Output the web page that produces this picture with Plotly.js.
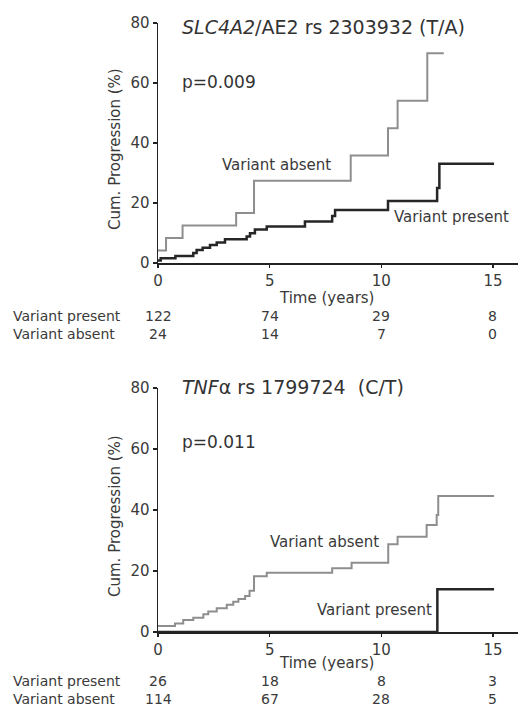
<!DOCTYPE html>
<html><head><meta charset="utf-8">
<script src="https://cdn.plot.ly/plotly-3.0.1.min.js"></script>
<style>html,body{margin:0;padding:0;background:#fff}#chart{width:518px;height:711px}</style>
</head><body><div id="chart"></div>
<script>
// Panel A: SLC4A2/AE2
const aAbsentT = [0, 0.36, 1.1, 3.5, 4.3, 8.63, 10.3, 10.73, 12.06, 12.8];
const aAbsentY = [4.2, 8.3, 12.5, 16.7, 27.4, 35.8, 44.9, 54.1, 69.9, 69.9];
const aPresentT = [0, 0.12, 0.78, 1.58, 1.73, 2.0, 2.33, 2.63, 3.0, 3.97, 4.12, 4.34, 4.87, 6.58, 7.8, 7.93, 10.3, 12.5, 12.6, 15.05];
const aPresentY = [0.8, 1.6, 2.3, 3.3, 4.3, 5.1, 6.0, 6.8, 7.9, 8.8, 9.9, 11.2, 12.2, 13.8, 15.7, 17.7, 20.7, 25.0, 33.1, 33.1];
// Panel B: TNFalpha
const bAbsentT = [0, 0.76, 1.13, 1.58, 2.03, 2.25, 2.63, 3.08, 3.37, 3.6, 3.9, 4.1, 4.3, 4.87, 7.8, 8.67, 10.31, 10.73, 12.03, 12.48, 12.55, 15.05];
const bAbsentY = [2.0, 2.8, 3.9, 4.7, 5.8, 6.7, 7.8, 8.9, 9.9, 10.8, 11.8, 13.5, 18.3, 19.4, 20.9, 22.7, 28.8, 31.2, 35.1, 38.4, 44.6, 44.6];
const bPresentT = [0, 12.51, 15.05];
const bPresentY = [0, 14, 14];

const timeTicks = [0, 5, 10, 15];
const aRiskPresent = ["122", "74", "29", "8"];
const aRiskAbsent = ["24", "14", "7", "0"];
const bRiskPresent = ["26", "18", "8", "3"];
const bRiskAbsent = ["114", "67", "28", "5"];

const FONT = "DejaVu Sans, Verdana, sans-serif";
const TXT = "#3a3a3a";
const GREY = "#8e8e8e";
const DARK = "#262626";

function tr(x, y, color, w, xa, ya) {
  return {x: x, y: y, type: "scatter", mode: "lines", line: {shape: "hv", color: color, width: w},
    xaxis: xa, yaxis: ya, hoverinfo: "skip", cliponaxis: false};
}
const data = [
  tr(aAbsentT, aAbsentY, GREY, 2, "x", "y"),
  tr(aPresentT, aPresentY, DARK, 2.5, "x", "y"),
  tr(bAbsentT, bAbsentY, GREY, 2, "x2", "y2"),
  tr(bPresentT, bPresentY, DARK, 2.5, "x2", "y2")
];

const H = 711, L = 158, W = 360;
const py = p => 1 - p / H;
const px = p => (p - L) / W;

function xax(anchor) {
  return {range: [0, W / 22.33], anchor: anchor, showgrid: false, zeroline: false,
    showline: true, linecolor: "#222", linewidth: 1.5, ticks: "outside", ticklen: 3, tickwidth: 1.2,
    tickcolor: "#222", tickvals: timeTicks, tickfont: {family: FONT, size: 15, color: TXT}, fixedrange: true};
}
function yax(anchor, d) {
  return {range: [0, 80], domain: d, anchor: anchor, showgrid: false, zeroline: false,
    showline: true, linecolor: "#222", linewidth: 1.5, ticks: "outside", ticklen: 4, tickwidth: 1.2,
    tickcolor: "#222", tickvals: [0, 20, 40, 60, 80], tickfont: {family: FONT, size: 15, color: TXT}, fixedrange: true};
}

const ann = [];
function add(o) { ann.push(Object.assign({showarrow: false, font: {family: FONT, size: 15, color: TXT}}, o)); }

// Titles and p values
add({text: "<i>SLC4A2</i>/AE2 rs 2303932 (T/A)", xref: "paper", yref: "paper", x: px(180), y: py(27), xanchor: "left", yanchor: "middle", font: {family: FONT, size: 19, color: "#333"}});
add({text: "p=0.009", xref: "paper", yref: "paper", x: px(180), y: py(82), xanchor: "left", yanchor: "middle", font: {family: FONT, size: 17, color: "#333"}});
add({text: "<i>TNF</i>α rs 1799724 \u00a0(C/T)", xref: "paper", yref: "paper", x: px(180), y: py(387), xanchor: "left", yanchor: "middle", font: {family: FONT, size: 19, color: "#333"}});
add({text: "p=0.011", xref: "paper", yref: "paper", x: px(180), y: py(442), xanchor: "left", yanchor: "middle", font: {family: FONT, size: 17, color: "#333"}});

// Curve labels
add({text: "Variant absent", xref: "x", yref: "y", x: 2.78, y: 32.7, xanchor: "left", yanchor: "middle"});
add({text: "Variant present", xref: "x", yref: "y", x: 10.48, y: 15.3, xanchor: "left", yanchor: "middle"});
add({text: "Variant absent", xref: "x2", yref: "y2", x: 4.93, y: 29.5, xanchor: "left", yanchor: "middle"});
add({text: "Variant present", xref: "x2", yref: "y2", x: 7.03, y: 7.2, xanchor: "left", yanchor: "middle"});

// Axis titles
[149, 516].forEach(c => add({text: "Cum. Progression (%)", xref: "paper", yref: "paper", x: px(115), y: py(c), textangle: -90, xanchor: "center", yanchor: "middle"}));
[298, 663].forEach(p => add({text: "Time (years)", xref: "paper", yref: "paper", x: px(326), y: py(p), xanchor: "center", yanchor: "middle"}));

// Numbers at risk
const RF = {family: FONT, size: 14, color: TXT};
function riskRow(label, vals, ypix, xr) {
  add({text: label, xref: "paper", yref: "paper", x: px(12), y: py(ypix), xanchor: "left", yanchor: "middle", font: RF, borderpad: 0});
  vals.forEach((v, i) => add({text: v, xref: xr, yref: "paper", x: timeTicks[i], y: py(ypix), xanchor: "center", yanchor: "middle", font: RF, borderpad: 0}));
}
riskRow("Variant present", aRiskPresent, 316, "x");
riskRow("Variant absent", aRiskAbsent, 334, "x");
riskRow("Variant present", bRiskPresent, 681, "x2");
riskRow("Variant absent", bRiskAbsent, 699, "x2");

const layout = {
  width: 518, height: 711, margin: {l: L, r: 0, t: 0, b: 0},
  paper_bgcolor: "#fff", plot_bgcolor: "#fff", showlegend: false,
  xaxis: xax("y"), xaxis2: xax("y2"),
  yaxis: yax("x", [py(263), py(23)]), yaxis2: yax("x2", [py(632), py(388)]),
  annotations: ann, font: {family: FONT}
};
Plotly.newPlot("chart", data, layout, {staticPlot: true, displayModeBar: false});
</script></body></html>
